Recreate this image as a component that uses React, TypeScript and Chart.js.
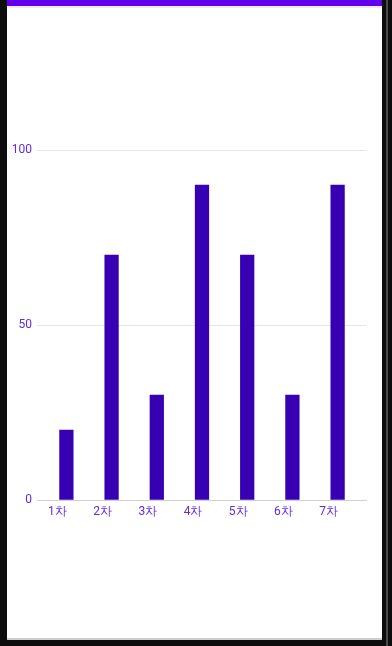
import React, { useEffect, useRef } from "react";
import { Chart, registerables } from "chart.js";

Chart.register(...registerables);

const categories = ["1차", "2차", "3차", "4차", "5차", "6차", "7차"];
const values = [20, 70, 30, 90, 70, 30, 90];
const yTicks = [0, 50, 100];

export default function App() {
  const ref = useRef<HTMLCanvasElement | null>(null);

  useEffect(() => {
    if (!ref.current) return;
    const chart = new Chart(ref.current, {
      type: "bar",
      data: {
        datasets: [
          {
            data: values.map((v, i) => ({ x: i, y: v })),
            backgroundColor: "#3700B3",
            borderWidth: 0,
            barThickness: 13.6,
          },
        ],
      },
      options: {
        responsive: false,
        animation: false,
        layout: { padding: { top: 150, right: 25, bottom: 116, left: 0 } },
        plugins: { legend: { display: false }, tooltip: { enabled: false } },
        scales: {
          x: {
            type: "linear",
            offset: false,
            min: -0.65,
            max: 6.65,
            grid: { display: false, drawTicks: false },
            border: { display: false },
            afterBuildTicks: (scale: any) => {
              scale.ticks = categories.map((_, i) => ({ value: i }));
            },
            afterFit: (scale: any) => {
              scale.height = 30;
            },
            ticks: {
              autoSkip: false,
              maxRotation: 0,
              padding: 5,
              labelOffset: -9,
              color: "#5f2ae0",
              font: { family: "Roboto", size: 12 },
              callback: (v: any) => categories[v as number] ?? "",
            },
          },
          y: {
            min: 0,
            max: 100,
            afterBuildTicks: (scale: any) => {
              scale.ticks = yTicks.map((v) => ({ value: v }));
            },
            afterFit: (scale: any) => {
              scale.width = 37;
            },
            grid: {
              drawTicks: false,
              color: (ctx: any) => (ctx.tick && ctx.tick.value === 0 ? "#d0d0d0" : "#e6e6e6"),
              lineWidth: 1,
            },
            border: { display: false },
            ticks: {
              padding: 5,
              color: "#5f2ae0",
              font: { family: "Roboto", size: 12 },
            },
          },
        },
      },
    });
    return () => chart.destroy();
  }, []);

  return (
    <div
      style={{
        position: "fixed",
        left: 0,
        top: 0,
        width: 392,
        height: 646,
        background: "#0d0d0d",
        overflow: "hidden",
      }}
    >
      <div style={{ position: "absolute", left: 386, top: 0, width: 2, height: 646, background: "#4a4a4a" }} />
      <div style={{ position: "absolute", left: 7, top: 0, width: 375, height: 638, background: "#ffffff" }} />
      <div style={{ position: "absolute", left: 7, top: 638, width: 375, height: 2, background: "#cfcfcf" }} />
      <div style={{ position: "absolute", left: 7, top: 0, width: 375, height: 6, background: "#6200EE" }} />
      <div style={{ position: "absolute", left: 7, top: 6, width: 375, height: 2, background: "#efeaf7" }} />
      <canvas ref={ref} width={392} height={646} style={{ position: "absolute", left: 0, top: 0 }} />
    </div>
  );
}
